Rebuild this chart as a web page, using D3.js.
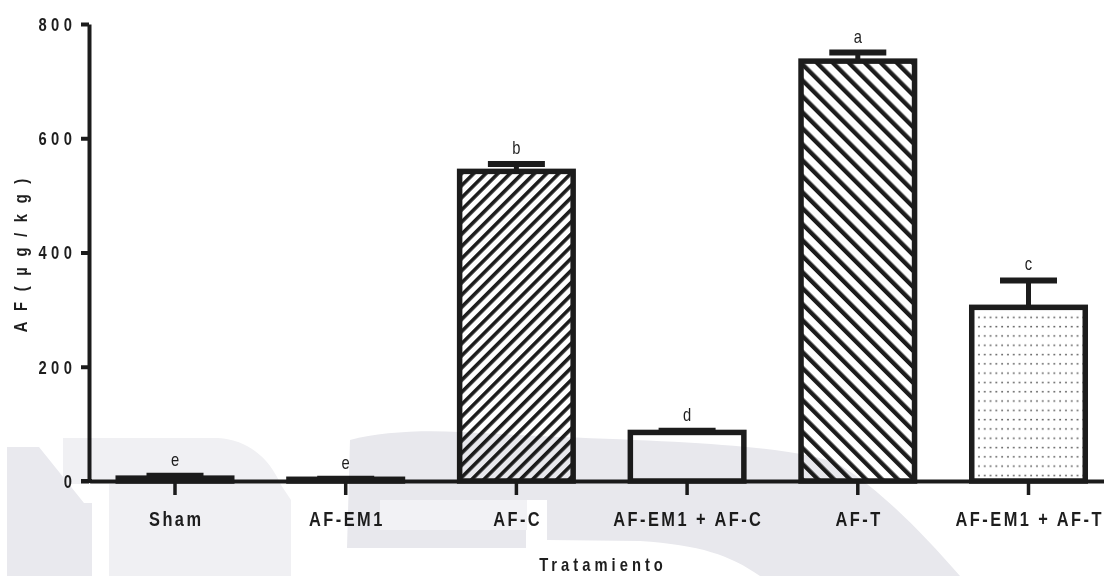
<!DOCTYPE html>
<html>
<head>
<meta charset="utf-8">
<script src="https://cdn.jsdelivr.net/npm/d3@7/dist/d3.min.js"></script>
<style>
  html, body { margin: 0; padding: 0; background: #ffffff; }
  svg { display: block; }
  text { font-family: "Liberation Sans", Arial, sans-serif; }
</style>
</head>
<body>
<svg id="chart" width="1104" height="576"></svg>
<script>
// Aflatoxin (AF) content per treatment group, mean ± SE, with significance letters
const categories = ["Sham", "AF-EM1", "AF-C", "AF-EM1 + AF-C", "AF-T", "AF-EM1 + AF-T"];
const means = [5, 3, 542, 85, 735, 304];
const errors = [4, 1, 13, 3, 15, 47];
const groupLetters = ["e", "e", "b", "d", "a", "c"];
const fillKinds = ["none", "none", "hatchUp", "none", "hatchDown", "dots"];
const yTicks = [0, 200, 400, 600, 800];
const yTitle = "AF(µg/kg)";
const xTitle = "Tratamiento";

const ink = "#1c1c1c";
const textInk = "#1e1e1e";
const squeeze = 0.82;   // condensed lettering
const svg = d3.select("#chart");

const y = d3.scaleLinear().domain([0, 800]).range([481, 24]);
const x = d3.scaleBand().domain(categories).range([89.65, 1113.85])
  .paddingInner(0.335).paddingOuter(0.1675);

// fill patterns
const defs = svg.append("defs");
function stripes(id, angle, gap, thick) {
  const p = defs.append("pattern").attr("id", id)
    .attr("patternUnits", "userSpaceOnUse")
    .attr("width", gap).attr("height", gap)
    .attr("patternTransform", `rotate(${angle})`);
  p.append("rect").attr("width", gap).attr("height", gap).attr("fill", "#fff");
  p.append("rect").attr("x", 0).attr("width", thick).attr("height", gap).attr("fill", ink);
}
stripes("hatchUp", 45, 8.6, 3.6);
stripes("hatchDown", -45, 11.3, 4.3);
const dp = defs.append("pattern").attr("id", "dots")
  .attr("patternUnits", "userSpaceOnUse")
  .attr("x", 976).attr("y", 313)
  .attr("width", 5.8).attr("height", 9.3);
dp.append("rect").attr("width", 5.8).attr("height", 9.3).attr("fill", "#fff");
dp.append("rect").attr("x", 2.2).attr("y", 3.6).attr("width", 1.5).attr("height", 1.5).attr("fill", "#444");

const rows = categories.map((c, i) => ({
  c, m: means[i], e: errors[i], l: groupLetters[i], f: fillKinds[i]
}));

const bw = x.bandwidth();
const sw = 5.5;

// bars
svg.append("g").selectAll("rect").data(rows).join("rect")
  .attr("x", d => x(d.c))
  .attr("y", d => y(d.m))
  .attr("width", bw)
  .attr("height", d => y(0) - y(d.m))
  .attr("fill", d => d.f === "none" ? "none" : `url(#${d.f})`)
  .attr("stroke", ink)
  .attr("stroke-width", sw);

// error bars (upper only)
const eb = svg.append("g").attr("stroke", ink);
eb.selectAll("line.stem").data(rows).join("line").attr("class", "stem")
  .attr("x1", d => x(d.c) + bw / 2).attr("x2", d => x(d.c) + bw / 2)
  .attr("y1", d => y(d.m)).attr("y2", d => y(d.m + d.e))
  .attr("stroke-width", 5);
eb.selectAll("line.cap").data(rows).join("line").attr("class", "cap")
  .attr("x1", d => x(d.c) + bw / 2 - 28.5).attr("x2", d => x(d.c) + bw / 2 + 28.5)
  .attr("y1", d => y(d.m + d.e)).attr("y2", d => y(d.m + d.e))
  .attr("stroke-width", 6);

// significance letters
svg.append("g").selectAll("text").data(rows).join("text")
  .attr("transform", d => `translate(${x(d.c) + bw / 2},${y(d.m + d.e) - 10}) scale(${squeeze},1)`)
  .attr("text-anchor", "middle")
  .attr("font-size", 18)
  .attr("fill", textInk)
  .text(d => d.l);

// axes
const tickLS = 5.5;
const yAxis = svg.append("g").attr("transform", "translate(89,0)")
  .call(d3.axisLeft(y).tickValues(yTicks).tickFormat(d3.format("d")).tickSize(8).tickSizeOuter(0));
yAxis.select(".domain").attr("stroke", ink).attr("stroke-width", 4);
yAxis.selectAll(".tick line").attr("stroke", ink).attr("stroke-width", 4);
yAxis.selectAll(".tick text")
  .attr("x", 0).attr("dy", "0.36em")
  .attr("transform", `translate(${-17 + tickLS * squeeze},0) scale(${squeeze},1)`)
  .attr("font-size", 18).attr("font-weight", "bold").attr("fill", textInk)
  .style("letter-spacing", tickLS + "px");

const xLS = 3;
const xAxis = svg.append("g").attr("transform", "translate(0,481)")
  .call(d3.axisBottom(x).tickSize(14).tickSizeOuter(0));
xAxis.select(".domain").attr("stroke", ink).attr("stroke-width", 4);
xAxis.selectAll(".tick line").attr("stroke", ink).attr("stroke-width", 3.5);
xAxis.selectAll(".tick text")
  .attr("y", 0).attr("dy", 0)
  .attr("transform", `translate(${xLS * squeeze / 2},44.5) scale(${squeeze},1)`)
  .attr("font-size", 20).attr("font-weight", "bold").attr("fill", textInk)
  .style("letter-spacing", xLS + "px");
// extend baseline under the y-axis
svg.append("line").attr("x1", 81).attr("x2", 92).attr("y1", y(0)).attr("y2", y(0))
  .attr("stroke", ink).attr("stroke-width", 4);

// axis titles
const yLS = 13;
svg.append("text")
  .attr("transform", `translate(27,${(y(0) + y(800)) / 2 + 3}) rotate(-90) translate(${yLS * squeeze / 2},0) scale(${squeeze},1)`)
  .attr("text-anchor", "middle")
  .attr("font-size", 18).attr("font-weight", "bold").attr("fill", textInk)
  .style("letter-spacing", yLS + "px")
  .text(yTitle);
const tLS = 4.9;
svg.append("text")
  .attr("transform", `translate(${601 + tLS * squeeze / 2},571) scale(${squeeze},1)`)
  .attr("text-anchor", "middle")
  .attr("font-size", 18).attr("font-weight", "bold").attr("fill", textInk)
  .style("letter-spacing", tLS + "px")
  .text(xTitle);

// faint background emblem in the lower part of the page
const wm = svg.append("g").style("mix-blend-mode", "multiply");
wm.append("path").attr("fill", "#e9e9ee")
  .attr("d", "M7,447 L39,447 L84,503 L92,503 L92,576 L7,576 Z");
wm.append("path").attr("fill", "#f0f0f3")
  .attr("d", "M63,438 L218,438 C250,440 270,460 281,485 L291,500 L291,576 L109,576 L109,484 L63,484 Z");
wm.append("path").attr("fill", "#e8e8ed")
  .attr("d", "M350,440 C380,432 420,430 460,432 L560,437 C700,442 800,447 840,465 C880,490 920,530 960,576 L760,576 C730,555 700,545 640,541 L547,540 L547,500 L526,500 L526,548 L347,548 Z");
wm.append("path").attr("fill", "#f2f2f5")
  .attr("d", "M380,500 L527,500 L527,530 L380,530 Z");
</script>
</body>
</html>
